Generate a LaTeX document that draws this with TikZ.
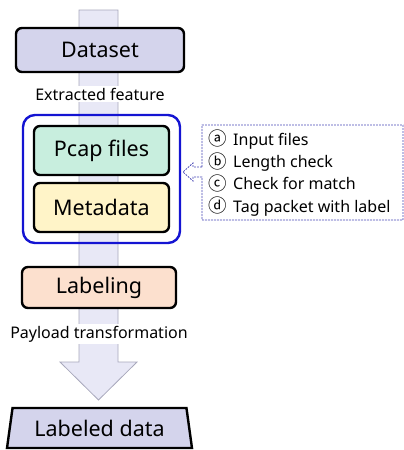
\documentclass[tikz,border=0pt]{standalone}
\usepackage{fontspec}
\setmainfont{Noto Sans}
\newfontfamily\circfont{Noto Sans CJK KR}
\usetikzlibrary{shapes.geometric}
\definecolor{lav}{HTML}{D4D4EC}
\definecolor{mint}{HTML}{C8EEDE}
\definecolor{cream}{HTML}{FFF4C8}
\definecolor{peach}{HTML}{FCE0CE}
\definecolor{arrowfill}{HTML}{E8E8F6}
\definecolor{arrowline}{HTML}{A8A8BC}
\definecolor{bluebox}{HTML}{1414D2}
\definecolor{dashblue}{HTML}{4646B4}
\newcommand{\cl}[1]{\makebox[25pt][l]{\circfont\fontsize{18.5}{20}\selectfont\raisebox{-0.5pt}{#1}}}
\tikzset{
  stagebox/.style={draw=black, line width=2.4pt, rounded corners=6pt, inner sep=0pt, font=\fontsize{21.5}{24}\selectfont},
  smalltext/.style={font=\fontsize{16}{18}\selectfont, inner sep=0pt},
}
\begin{document}
\begin{tikzpicture}[x=1pt,y=-1pt]
\useasboundingbox (0,0) rectangle (404,450);
% background arrow
\draw[fill=arrowfill, draw=arrowline, line width=0.8pt]
  (79,10) -- (118,10) -- (118,362) -- (137,362) -- (98.5,400) -- (60,362) -- (79,362) -- cycle;
\node[smalltext, fill=white, inner sep=2pt] (ef) at (100,94) {Extracted feature};
% blue group
\node[draw=bluebox, line width=2.4pt, rounded corners=12pt, minimum width=157pt, minimum height=128pt, inner sep=0pt] (grp) at (101.5,179) {};
\node[stagebox, fill=lav, minimum width=168pt, minimum height=44pt] (ds) at (100,50) {Dataset};
\node[stagebox, fill=mint, minimum width=135pt, minimum height=49pt] (pc) at (101.5,150.5) {Pcap files};
\node[stagebox, fill=cream, minimum width=135pt, minimum height=49pt] (md) at (101.5,207.5) {Metadata};
\node[stagebox, fill=peach, minimum width=154pt, minimum height=41pt] (lb) at (99,287.5) {Labeling};
\node[smalltext, fill=white, inner sep=2pt] (pt) at (99,334) {Payload transformation};
\node[draw=black, line width=2.4pt, fill=lav, trapezium, trapezium stretches=true, trapezium angle=76, minimum width=185pt, minimum height=40pt, inner sep=0pt, font=\fontsize{21.5}{24}\selectfont] (ld) at (99.5,428) {Labeled data};
% callout
\draw[dashblue, dash pattern=on 1.8pt off 1.2pt, line width=0.8pt]
  (202,167) -- (202,125) -- (403,125) -- (403,220) -- (202,220) -- (202,177)
  -- (193,177) -- (193,181) -- (183,172) -- (193,163) -- (193,167) -- cycle;
\node[font=\fontsize{16}{22.3}\selectfont, inner sep=0pt, anchor=west, align=left] (cl) at (208,173)
  {\cl{ⓐ}Input files\\\cl{ⓑ}Length check\\\cl{ⓒ}Check for match\\\cl{ⓓ}Tag packet with label};
\end{tikzpicture}
\end{document}
